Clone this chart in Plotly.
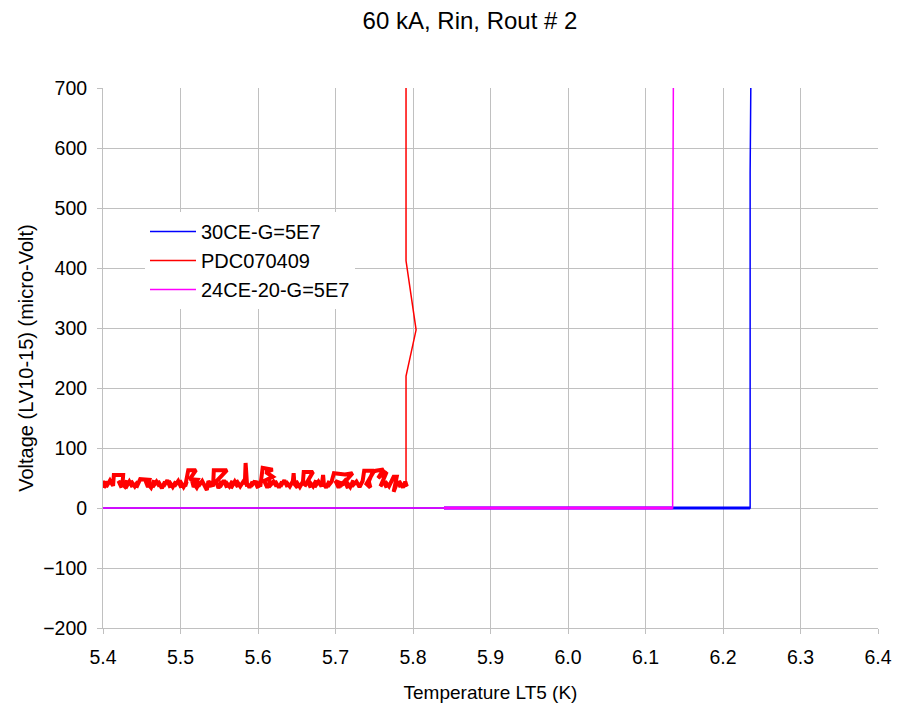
import plotly.graph_objects as go

# ---- data ----
blue_name = "30CE-G=5E7"
blue_t = [5.400, 5.840, 6.235, 6.235, 6.236]
blue_v = [0, 0, 0, 560, 720]

mag_name = "24CE-20-G=5E7"
mag_t = [5.400, 5.840, 6.135, 6.135, 6.136]
mag_v = [0, 0, 0, 410, 720]

red_name = "PDC070409"
red_t = [5.400, 5.403, 5.401, 5.406, 5.404, 5.409, 5.413, 5.414, 5.426, 5.425,
         5.420, 5.424, 5.422, 5.428, 5.431, 5.429, 5.434, 5.438, 5.436, 5.441,
         5.445, 5.443, 5.448, 5.450, 5.460, 5.458, 5.455, 5.462, 5.466, 5.464,
         5.469, 5.473, 5.471, 5.476, 5.480, 5.478, 5.483, 5.487, 5.485, 5.490,
         5.494, 5.492, 5.497, 5.501, 5.499, 5.504, 5.508, 5.506, 5.510, 5.520,
         5.512, 5.522, 5.517, 5.515, 5.521, 5.525, 5.523, 5.528, 5.532, 5.534,
         5.536, 5.540, 5.538, 5.542, 5.543, 5.560, 5.546, 5.549, 5.553, 5.551,
         5.556, 5.560, 5.558, 5.563, 5.567, 5.565, 5.570, 5.574, 5.572, 5.577,
         5.581, 5.583, 5.584, 5.586, 5.584, 5.589, 5.593, 5.591, 5.596, 5.600,
         5.598, 5.603, 5.606, 5.619, 5.610, 5.619, 5.608, 5.612, 5.616, 5.614,
         5.620, 5.624, 5.622, 5.627, 5.631, 5.629, 5.634, 5.638, 5.636, 5.641,
         5.645, 5.646, 5.647, 5.651, 5.649, 5.654, 5.658, 5.659, 5.671, 5.660,
         5.664, 5.668, 5.666, 5.671, 5.675, 5.673, 5.678, 5.682, 5.684, 5.685,
         5.688, 5.692, 5.690, 5.695, 5.697, 5.698, 5.712, 5.722, 5.710, 5.700,
         5.704, 5.708, 5.706, 5.712, 5.716, 5.714, 5.719, 5.723, 5.721, 5.727,
         5.731, 5.735, 5.737, 5.750, 5.740, 5.745, 5.743, 5.748, 5.752, 5.762,
         5.755, 5.760, 5.766, 5.758, 5.762, 5.766, 5.764, 5.769, 5.773, 5.775,
         5.779, 5.776, 5.775, 5.780, 5.784, 5.782, 5.787, 5.790, 5.792, 5.791,
         5.791, 5.791, 5.804, 5.791, 5.791, 5.791]
red_v = [36, 45, 34, 44, 35, 46, 37, 55, 55, 36,
         45, 34, 44, 36, 46, 33, 44, 35, 45, 36,
         44, 34, 48, 48, 47, 35, 45, 34, 46, 35,
         44, 36, 45, 33, 44, 36, 46, 34, 45, 35,
         44, 36, 45, 34, 46, 35, 44, 36, 63, 63,
         48, 47, 35, 45, 34, 44, 36, 45, 34, 30,
         45, 35, 44, 36, 63, 63, 44, 33, 45, 35,
         46, 34, 44, 36, 45, 33, 44, 35, 46, 36,
         44, 40, 75, 36, 45, 34, 44, 36, 45, 33,
         44, 36, 67, 64, 60, 52, 45, 34, 46, 35,
         44, 36, 45, 34, 44, 36, 46, 35, 44, 36,
         45, 58, 40, 34, 45, 35, 44, 60, 60, 36,
         45, 34, 44, 36, 46, 35, 44, 36, 55, 40,
         34, 45, 36, 44, 58, 58, 56, 58, 40, 45,
         34, 44, 36, 45, 33, 44, 35, 46, 36, 44,
         35, 45, 62, 62, 40, 34, 44, 60, 62, 64,
         50, 55, 60, 36, 45, 34, 44, 36, 45, 52,
         52, 36, 27, 44, 35, 45, 34, 44, 36, 38,
         100, 220, 297, 412, 560, 720]
n_transition = 6  # last points of the red series: the quench rise

x_ticks = [5.4, 5.5, 5.6, 5.7, 5.8, 5.9, 6.0, 6.1, 6.2, 6.3, 6.4]
y_ticks = [-200, -100, 0, 100, 200, 300, 400, 500, 600, 700]

BLUE = "#0000ff"
RED = "#ff0000"
MAG = "#ff00ff"
FONT = "Liberation Sans, Arial, sans-serif"

fig = go.Figure()
# blue series
fig.add_trace(go.Scatter(x=blue_t, y=blue_v, mode="lines", name=blue_name,
                         line=dict(color=BLUE, width=1.5), legendrank=1,
                         legendgroup="b"))
fig.add_trace(go.Scatter(x=blue_t[1:3], y=blue_v[1:3], mode="lines",
                         line=dict(color=BLUE, width=3), showlegend=False,
                         legendgroup="b", hoverinfo="skip"))
# magenta series
fig.add_trace(go.Scatter(x=mag_t, y=mag_v, mode="lines", name=mag_name,
                         line=dict(color=MAG, width=1.5), legendrank=3,
                         legendgroup="m"))
fig.add_trace(go.Scatter(x=mag_t[1:3], y=mag_v[1:3], mode="lines",
                         line=dict(color=MAG, width=3), showlegend=False,
                         legendgroup="m", hoverinfo="skip"))
# red series: dense noisy band drawn heavy, thin full trace carries legend
fig.add_trace(go.Scatter(x=red_t[:-n_transition], y=red_v[:-n_transition],
                         mode="lines", line=dict(color=RED, width=4),
                         showlegend=False, legendgroup="r", hoverinfo="skip"))
fig.add_trace(go.Scatter(x=red_t, y=red_v, mode="lines", name=red_name,
                         line=dict(color=RED, width=1.5), legendrank=2,
                         legendgroup="r"))

fig.update_layout(
    width=903, height=707,
    margin=dict(l=103, r=25, t=88, b=79, autoexpand=False),
    paper_bgcolor="white", plot_bgcolor="white",
    font=dict(family=FONT, size=19.5, color="black"),
    title=dict(text="60 kA, Rin, Rout # 2", x=(470 - 103) / 775, xref="paper",
               xanchor="center", y=1 - 21 / 707, yref="container",
               yanchor="middle", font=dict(size=24)),
    showlegend=True,
    legend=dict(x=(145 - 103) / 775, y=(628 - 212) / 540,
                xanchor="left", yanchor="top", bgcolor="white",
                borderwidth=0, font=dict(size=20), itemwidth=46,
                traceorder="grouped", tracegroupgap=0),
)
fig.update_xaxes(range=[5.4, 6.4], tickvals=x_ticks,
                 ticktext=[f"{v:.1f}" for v in x_ticks],
                 showgrid=True, gridcolor="#c0c0c0", gridwidth=1,
                 showline=True, linecolor="#c0c0c0", linewidth=1,
                 ticks="outside", ticklen=5, tickcolor="#c0c0c0",
                 ticklabelstandoff=7, automargin=False,
                 zeroline=False, mirror=False,
                 title=dict(text="Temperature LT5 (K)", font=dict(size=19),
                            standoff=18))
fig.update_yaxes(range=[-200, 700], tickvals=y_ticks,
                 showgrid=True, gridcolor="#c0c0c0", gridwidth=1,
                 showline=True, linecolor="#c0c0c0", linewidth=1,
                 ticks="outside", ticklen=5, tickcolor="#c0c0c0",
                 ticklabelstandoff=6, automargin=False,
                 zeroline=False,
                 title=dict(text="Voltage (LV10-15) (micro-Volt)",
                            font=dict(size=20), standoff=4))

fig.write_html("out.html")
